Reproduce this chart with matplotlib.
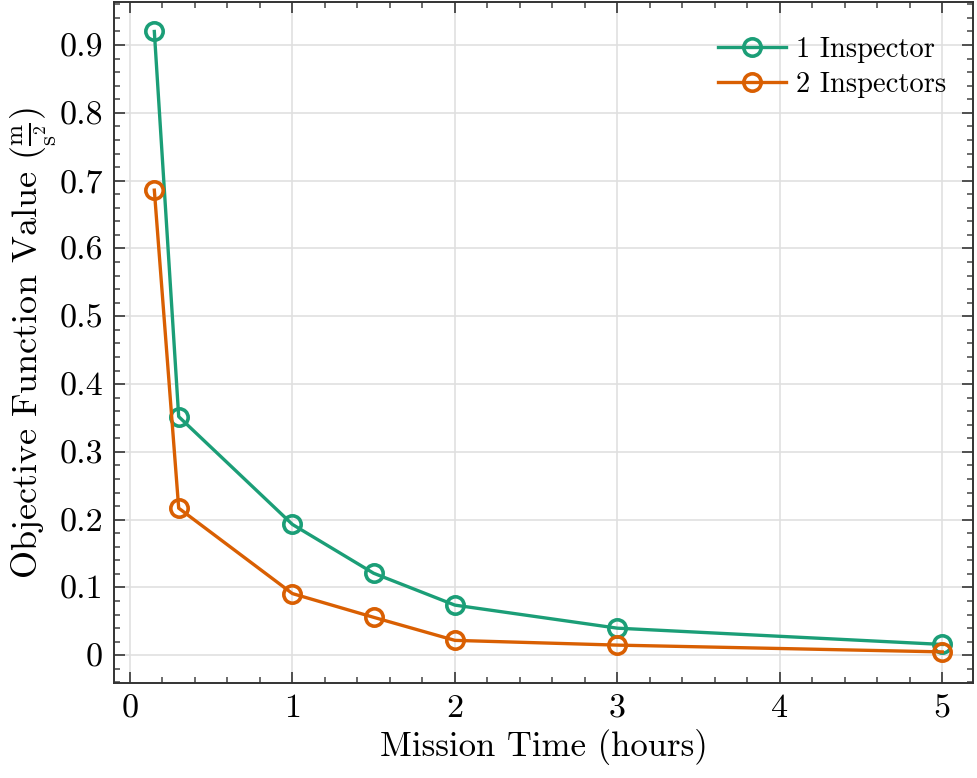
import matplotlib
matplotlib.use('Agg')
import matplotlib.pyplot as plt
from matplotlib.ticker import FuncFormatter, AutoMinorLocator

# Mission time (hours)
mission_time = [0.15, 0.3, 1.0, 1.5, 2.0, 3.0, 5.0]
# Objective function values
one_inspector = [0.92, 0.352, 0.193, 0.121, 0.074, 0.040, 0.016]
two_inspectors = [0.686, 0.217, 0.091, 0.056, 0.022, 0.015, 0.005]

plt.rcParams['font.family'] = ['cmr10']
plt.rcParams['mathtext.fontset'] = 'cm'
plt.rcParams['axes.formatter.use_mathtext'] = True

fig = plt.figure(figsize=(9.78, 7.78), dpi=100)
ax = fig.add_axes([0.1166, 0.122, 0.8784, 0.875])

ax.plot(mission_time, one_inspector, color='#1b9e77', lw=2.4, marker='o', ms=12.5,
        mfc='none', mew=2.6, label='1 Inspector')
ax.plot(mission_time, two_inspectors, color='#d95f02', lw=2.4, marker='o', ms=12.5,
        mfc='none', mew=2.6, label='2 Inspectors')

ax.set_xlim(-0.098, 5.19)
ax.set_ylim(-0.041, 0.963)
ax.set_xticks([0, 1, 2, 3, 4, 5])
ax.set_yticks([0, 0.1, 0.2, 0.3, 0.4, 0.5, 0.6, 0.7, 0.8, 0.9])
fmt = FuncFormatter(lambda v, p: '{:g}'.format(round(v, 3)))
ax.xaxis.set_major_formatter(fmt)
ax.yaxis.set_major_formatter(fmt)
ax.xaxis.set_minor_locator(AutoMinorLocator(5))
ax.yaxis.set_minor_locator(AutoMinorLocator(5))

ax.tick_params(which='both', direction='in', top=True, right=True, labelsize=24.5, color='#444444')
ax.tick_params(which='major', length=8, width=1.3, pad=8)
ax.tick_params(which='minor', length=4.5, width=1.1)
for s in ax.spines.values():
    s.set_linewidth(1.4)
    s.set_color('#333333')

ax.grid(True, which='major', color='#e0e0e0', lw=1.2)
ax.set_axisbelow(True)

ax.set_xlabel('Mission Time (hours)', fontsize=25, labelpad=4)
ax.set_ylabel(r'Objective Function Value ($\frac{\mathrm{m}}{\mathrm{s}^2}$)', fontsize=26)
ax.yaxis.set_label_coords(-0.064, 0.5)

ax.legend(loc='upper right', bbox_to_anchor=(1.0116, 1.0044), frameon=False, fontsize=20.5,
          handlelength=2.4, handletextpad=0.35, borderaxespad=0.9, labelspacing=0.3)

fig.savefig('out.png', dpi=100)
